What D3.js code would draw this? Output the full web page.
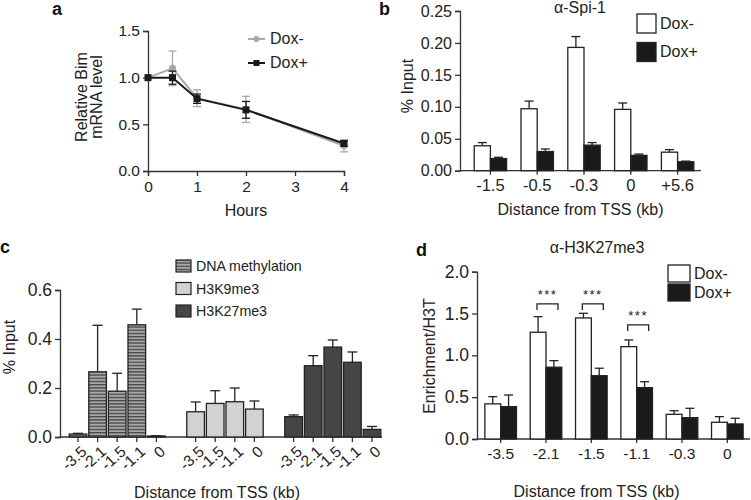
<!DOCTYPE html>
<html lang="en">
<head>
<meta charset="UTF-8">
<title>Bim figure</title>
<script src="https://d3js.org/d3.v7.min.js"></script>
<style>
  body { margin: 0; background: #fff; }
  svg { display: block; font-family: "Liberation Sans", Arial, sans-serif; }
  .axis path, .axis line { stroke: #333; stroke-width: 1.3; }
  .axis text { fill: #222; }
  .lbl { font-size: 16px; fill: #222; }
  .panel { font-size: 18px; font-weight: bold; fill: #111; }
</style>
</head>
<body>
<svg id="fig"></svg>
<script>
const width = 751, height = 500;
const svg = d3.select("#fig").attr("width", width).attr("height", height);

// ==== panel a : Bim mRNA time course ====
const hours = [0, 0.5, 1, 2, 4];
const bimDoxMinus = [1.0, 1.1, 0.78, 0.66, 0.27];
const bimDoxMinusErr = [0, 0.185, 0.09, 0.14, 0.065];
const bimDoxPlus = [1.0, 1.0, 0.775, 0.655, 0.295];
const bimDoxPlusErr = [0, 0.07, 0.05, 0.09, 0.03];

// ==== panel b : Spi-1 ChIP ====
const spiSites = ["-1.5", "-0.5", "-0.3", "0", "+5.6"];
const spiDoxMinus = [0.039, 0.097, 0.193, 0.096, 0.029];
const spiDoxMinusErr = [0.005, 0.012, 0.017, 0.010, 0.004];
const spiDoxPlus = [0.019, 0.030, 0.040, 0.024, 0.014];
const spiDoxPlusErr = [0.002, 0.004, 0.004, 0.002, 0.001];

// ==== panel c : marks at the Bim promoter ====
const dnaSites = ["-3.5", "-2.1", "-1.5", "-1.1", "0"];
const dnaMeth = [0.012, 0.266, 0.187, 0.458, 0.004];
const dnaMethErr = [0.003, 0.19, 0.073, 0.064, 0.001];
const k9Sites = ["-3.5", "-1.5", "-1.1", "0"];
const k9me3 = [0.103, 0.137, 0.144, 0.114];
const k9me3Err = [0.04, 0.052, 0.056, 0.033];
const k27Sites = ["-3.5", "-2.1", "-1.5", "-1.1", "0"];
const k27me3 = [0.083, 0.291, 0.367, 0.305, 0.031];
const k27me3Err = [0.007, 0.041, 0.029, 0.042, 0.012];

// ==== panel d : H3K27me3 ChIP ====
const h3Sites = ["-3.5", "-2.1", "-1.5", "-1.1", "-0.3", "0"];
const h3DoxMinus = [0.42, 1.276, 1.447, 1.104, 0.295, 0.2];
const h3DoxMinusErr = [0.086, 0.187, 0.056, 0.08, 0.043, 0.067];
const h3DoxPlus = [0.387, 0.858, 0.757, 0.614, 0.255, 0.18];
const h3DoxPlusErr = [0.139, 0.079, 0.089, 0.071, 0.112, 0.068];
const sigSites = ["-2.1", "-1.5", "-1.1"];
const sigLevel = [1.615, 1.615, 1.364];

// pattern for DNA methylation bars
const defs = svg.append("defs");
const pat = defs.append("pattern").attr("id", "stripes")
  .attr("patternUnits", "userSpaceOnUse").attr("width", 6).attr("height", 3.2);
pat.append("rect").attr("width", 6).attr("height", 3.2).attr("fill", "#a8a8a8");
pat.append("rect").attr("y", 0).attr("width", 6).attr("height", 1.3).attr("fill", "#474747");

function styleAxis(fs) {
  return g => {
    g.attr("class", "axis");
    g.selectAll("text").attr("font-family", null).attr("font-size", fs + "px");
  };
}

// error bar going up only
function upErr(g, x, y0, y1, cap) {
  g.append("line").attr("x1", x).attr("x2", x).attr("y1", y0).attr("y2", y1)
    .attr("stroke", "#222").attr("stroke-width", 1.3);
  g.append("line").attr("x1", x - cap).attr("x2", x + cap).attr("y1", y1).attr("y2", y1)
    .attr("stroke", "#222").attr("stroke-width", 1.3);
}

// ---------------- panel a ----------------
{
  const x = d3.scaleLinear().domain([0, 4]).range([148, 344]);
  const y = d3.scaleLinear().domain([0, 1.5]).range([171, 31]);
  const g = svg.append("g");

  g.append("g").attr("transform", "translate(0,171)")
    .call(d3.axisBottom(x).tickValues([0, 1, 2, 3, 4]).tickFormat(d3.format("d")).tickSizeOuter(0).tickSize(5).tickPadding(5))
    .call(styleAxis(15.5));
  g.append("g").attr("transform", "translate(148,0)")
    .call(d3.axisLeft(y).tickValues([0, 0.5, 1, 1.5]).tickFormat(d3.format(".1f")).tickSizeOuter(0).tickSize(5).tickPadding(3))
    .call(styleAxis(15.5));

  const series = [
    { vals: bimDoxMinus, err: bimDoxMinusErr, color: "#a8a8a8", shape: "circle" },
    { vals: bimDoxPlus, err: bimDoxPlusErr, color: "#1a1a1a", shape: "square" }
  ];
  const line = d3.line().x((d, i) => x(hours[i])).y(d => y(d));
  series.forEach(s => {
    const sg = g.append("g");
    s.vals.forEach((v, i) => {
      if (!s.err[i]) return;
      const cx = x(hours[i]);
      sg.append("line").attr("x1", cx).attr("x2", cx)
        .attr("y1", y(v - s.err[i])).attr("y2", y(v + s.err[i]))
        .attr("stroke", s.color).attr("stroke-width", 1.3);
      [v - s.err[i], v + s.err[i]].forEach(e => sg.append("line")
        .attr("x1", cx - 4).attr("x2", cx + 4).attr("y1", y(e)).attr("y2", y(e))
        .attr("stroke", s.color).attr("stroke-width", 1.3));
    });
    sg.append("path").datum(s.vals).attr("d", line)
      .attr("fill", "none").attr("stroke", s.color).attr("stroke-width", 2);
    s.vals.forEach((v, i) => {
      if (s.shape === "circle")
        sg.append("circle").attr("cx", x(hours[i])).attr("cy", y(v)).attr("r", 3.5).attr("fill", s.color);
      else
        sg.append("rect").attr("x", x(hours[i]) - 3.5).attr("y", y(v) - 3.5)
          .attr("width", 7).attr("height", 7).attr("fill", s.color);
    });
  });

  // legend
  const leg = [["Dox-", "#a8a8a8", "circle", 39], ["Dox+", "#1a1a1a", "square", 63]];
  leg.forEach(([t, c, shp, ly]) => {
    g.append("line").attr("x1", 248).attr("x2", 265).attr("y1", ly).attr("y2", ly)
      .attr("stroke", c).attr("stroke-width", 2);
    if (shp === "circle") g.append("circle").attr("cx", 256.5).attr("cy", ly).attr("r", 3).attr("fill", c);
    else g.append("rect").attr("x", 253.5).attr("y", ly - 3).attr("width", 6).attr("height", 6).attr("fill", c);
    g.append("text").attr("class", "lbl").attr("font-size", "14px").attr("x", 270).attr("y", ly + 5).text(t);
  });

  g.append("text").attr("class", "lbl").attr("x", 246).attr("y", 216)
    .attr("text-anchor", "middle").text("Hours");
  g.append("text").attr("class", "lbl").attr("transform", "translate(87,97) rotate(-90)")
    .attr("text-anchor", "middle").text("Relative Bim");
  g.append("text").attr("class", "lbl").attr("transform", "translate(102,97) rotate(-90)")
    .attr("text-anchor", "middle").text("mRNA level");
  g.append("text").attr("class", "panel").attr("x", 52).attr("y", 15).text("a");
}

// generic paired bar panel (b and d)
function pairedBars(opt) {
  const x = d3.scaleBand().domain(opt.sites).range(opt.xr).paddingInner(0).paddingOuter(0);
  const y = d3.scaleLinear().domain(opt.ydom).range(opt.yr);
  const g = svg.append("g");
  const bw = opt.bw;

  g.append("g").attr("transform", `translate(${opt.axisX},0)`)
    .call(d3.axisLeft(y).ticks(opt.nt).tickFormat(d3.format(opt.fmt)).tickSizeOuter(0).tickSize(5).tickPadding(3))
    .call(styleAxis(opt.yfs));
  g.append("g").attr("transform", `translate(0,${opt.yr[0]})`)
    .call(d3.axisBottom(x).tickSize(4).tickPadding(5).tickSizeOuter(0))
    .call(styleAxis(opt.xfs))
    .call(a => a.select(".domain").attr("d", `M${opt.axisX},0H${opt.xr[1]}`));

  opt.sites.forEach((s, i) => {
    const c = x(s) + x.bandwidth() / 2;
    const bars = [
      { x0: c - bw, v: opt.minus[i], e: opt.minusErr[i], fill: "#fff" },
      { x0: c, v: opt.plus[i], e: opt.plusErr[i], fill: "#1a1a1a" }
    ];
    bars.forEach(b => {
      upErr(g, b.x0 + bw / 2, y(b.v), y(b.v + b.e), 4.5);
      g.append("rect").attr("x", b.x0).attr("y", y(b.v)).attr("width", bw)
        .attr("height", opt.yr[0] - y(b.v)).attr("fill", b.fill)
        .attr("stroke", "#222").attr("stroke-width", 1.3);
    });
  });

  // legend
  opt.legend.forEach(([t, fill, ly]) => {
    g.append("rect").attr("x", opt.legX).attr("y", ly).attr("width", opt.legW).attr("height", opt.legH)
      .attr("fill", fill).attr("stroke", "#222").attr("stroke-width", 1.3);
    g.append("text").attr("class", "lbl").attr("font-size", opt.legFs + "px")
      .attr("x", opt.legX + opt.legW + 4).attr("y", ly + opt.legH / 2 + opt.legFs * 0.36).text(t);
  });

  g.append("text").attr("class", "lbl").attr("font-size", opt.titleFs + "px")
    .attr("x", opt.titleX).attr("y", opt.titleY)
    .attr("text-anchor", "middle").text(opt.title);
  g.append("text").attr("class", "lbl").attr("font-size", "16.5px")
    .attr("x", (opt.axisX + opt.xr[1]) / 2 + opt.xlOff).attr("y", opt.xlY)
    .attr("text-anchor", "middle").text("Distance from TSS (kb)");
  g.append("text").attr("class", "lbl").attr("font-size", "16.5px")
    .attr("transform", `translate(${opt.ylX},${opt.ylY}) rotate(-90)`)
    .attr("text-anchor", "middle").text(opt.ylab);
  g.append("text").attr("class", "panel").attr("x", opt.pl[0]).attr("y", opt.pl[1]).text(opt.letter);
  return { g, x, y };
}

// ---------------- panel b ----------------
pairedBars({
  sites: spiSites, minus: spiDoxMinus, minusErr: spiDoxMinusErr, plus: spiDoxPlus, plusErr: spiDoxPlusErr,
  xr: [467, 701], axisX: 460, ydom: [0, 0.25], yr: [170.7, 11], nt: 5, fmt: ".2f", bw: 16.2,
  yfs: 16, xfs: 16.5,
  legend: [["Dox-", "#fff", 14], ["Dox+", "#1a1a1a", 42.5]], legX: 637, legW: 19, legH: 19, legFs: 14,
  title: "\u03b1-Spi-1", titleFs: 15.5, titleX: 580, titleY: 13, xlOff: 0, xlY: 215,
  ylX: 413, ylY: 86, ylab: "% Input",
  pl: [379, 15], letter: "b"
});

// ---------------- panel d ----------------
const pd = pairedBars({
  sites: h3Sites, minus: h3DoxMinus, minusErr: h3DoxMinusErr, plus: h3DoxPlus, plusErr: h3DoxPlusErr,
  xr: [478, 750], axisX: 477, ydom: [0, 2], yr: [439, 271.7], nt: 4, fmt: ".1f", bw: 15.8,
  yfs: 17.5, xfs: 15.5,
  legend: [["Dox-", "#fff", 265], ["Dox+", "#1a1a1a", 284]], legX: 668, legW: 22, legH: 17, legFs: 16,
  title: "\u03b1-H3K27me3", titleFs: 17.5, titleX: 597, titleY: 253, xlOff: -17, xlY: 497,
  ylX: 435, ylY: 356, ylab: "Enrichment/H3T",
  pl: [416, 256], letter: "d"
});
sigSites.forEach((s, i) => {
  const c = pd.x(s) + pd.x.bandwidth() / 2;
  const yb = pd.y(sigLevel[i]);
  pd.g.append("path").attr("d", `M${c - 9},${yb + 6}V${yb}H${c + 12}V${yb + 6}`)
    .attr("fill", "none").attr("stroke", "#222").attr("stroke-width", 1.3);
  pd.g.append("text").attr("x", c + 1.5).attr("y", yb - 5).attr("text-anchor", "middle")
    .attr("font-size", "13px").attr("fill", "#222").attr("letter-spacing", "1.5px").text("***");
});

// ---------------- panel c ----------------
{
  const groups = [
    { key: "dna", sites: dnaSites, vals: dnaMeth, err: dnaMethErr, fill: "url(#stripes)", name: "DNA methylation" },
    { key: "k9", sites: k9Sites, vals: k9me3, err: k9me3Err, fill: "#d2d2d2", name: "H3K9me3" },
    { key: "k27", sites: k27Sites, vals: k27me3, err: k27me3Err, fill: "#454545", name: "H3K27me3" }
  ];
  const slots = [];
  groups.forEach((gr, gi) => {
    if (gi > 0) slots.push("gap" + gi);
    gr.sites.forEach((s, i) => slots.push(gr.key + "|" + i));
  });
  const x = d3.scaleBand().domain(slots).range([68.2, 381.8]).paddingInner(0.1).paddingOuter(0.05);
  const y = d3.scaleLinear().domain([0, 0.6]).range([437, 290]);
  const g = svg.append("g");

  g.append("g").attr("transform", "translate(60,0)")
    .call(d3.axisLeft(y).ticks(3).tickFormat(d3.format(".1f")).tickSizeOuter(0).tickSize(5).tickPadding(3))
    .call(styleAxis(17.5));
  const xa = g.append("g").attr("class", "axis").attr("transform", "translate(0,437)");
  xa.append("path").attr("d", "M60,0H382").attr("fill", "none");

  groups.forEach(gr => {
    gr.vals.forEach((v, i) => {
      const k = gr.key + "|" + i;
      const bx = x(k), bw = x.bandwidth(), c = bx + bw / 2;
      upErr(g, c, y(v), y(v + gr.err[i]), 5);
      g.append("rect").attr("x", bx).attr("y", y(v)).attr("width", bw).attr("height", 437 - y(v))
        .attr("fill", gr.fill).attr("stroke", "#222").attr("stroke-width", 1.3);
      xa.append("line").attr("x1", c).attr("x2", c).attr("y1", 0).attr("y2", 5);
      xa.append("text").attr("transform", `translate(${c + 6},${12}) rotate(-42)`)
        .attr("text-anchor", "end").attr("font-size", "15.5px").attr("dy", "0.35em").text(gr.sites[i]);
    });
  });

  groups.forEach((gr, i) => {
    const ly = 260 + i * 22.5;
    g.append("rect").attr("x", 176).attr("y", ly).attr("width", 15).attr("height", 12)
      .attr("fill", gr.fill).attr("stroke", "#222").attr("stroke-width", 1.2);
    g.append("text").attr("x", 196).attr("y", ly + 11).attr("font-size", "14.2px").attr("fill", "#222").text(gr.name);
  });

  g.append("text").attr("class", "lbl").attr("x", 217).attr("y", 498)
    .attr("text-anchor", "middle").text("Distance from TSS (kb)");
  g.append("text").attr("class", "lbl").attr("transform", "translate(15,347) rotate(-90)")
    .attr("text-anchor", "middle").text("% Input");
  g.append("text").attr("class", "panel").attr("x", 0).attr("y", 253).text("c");
}
</script>
</body>
</html>
